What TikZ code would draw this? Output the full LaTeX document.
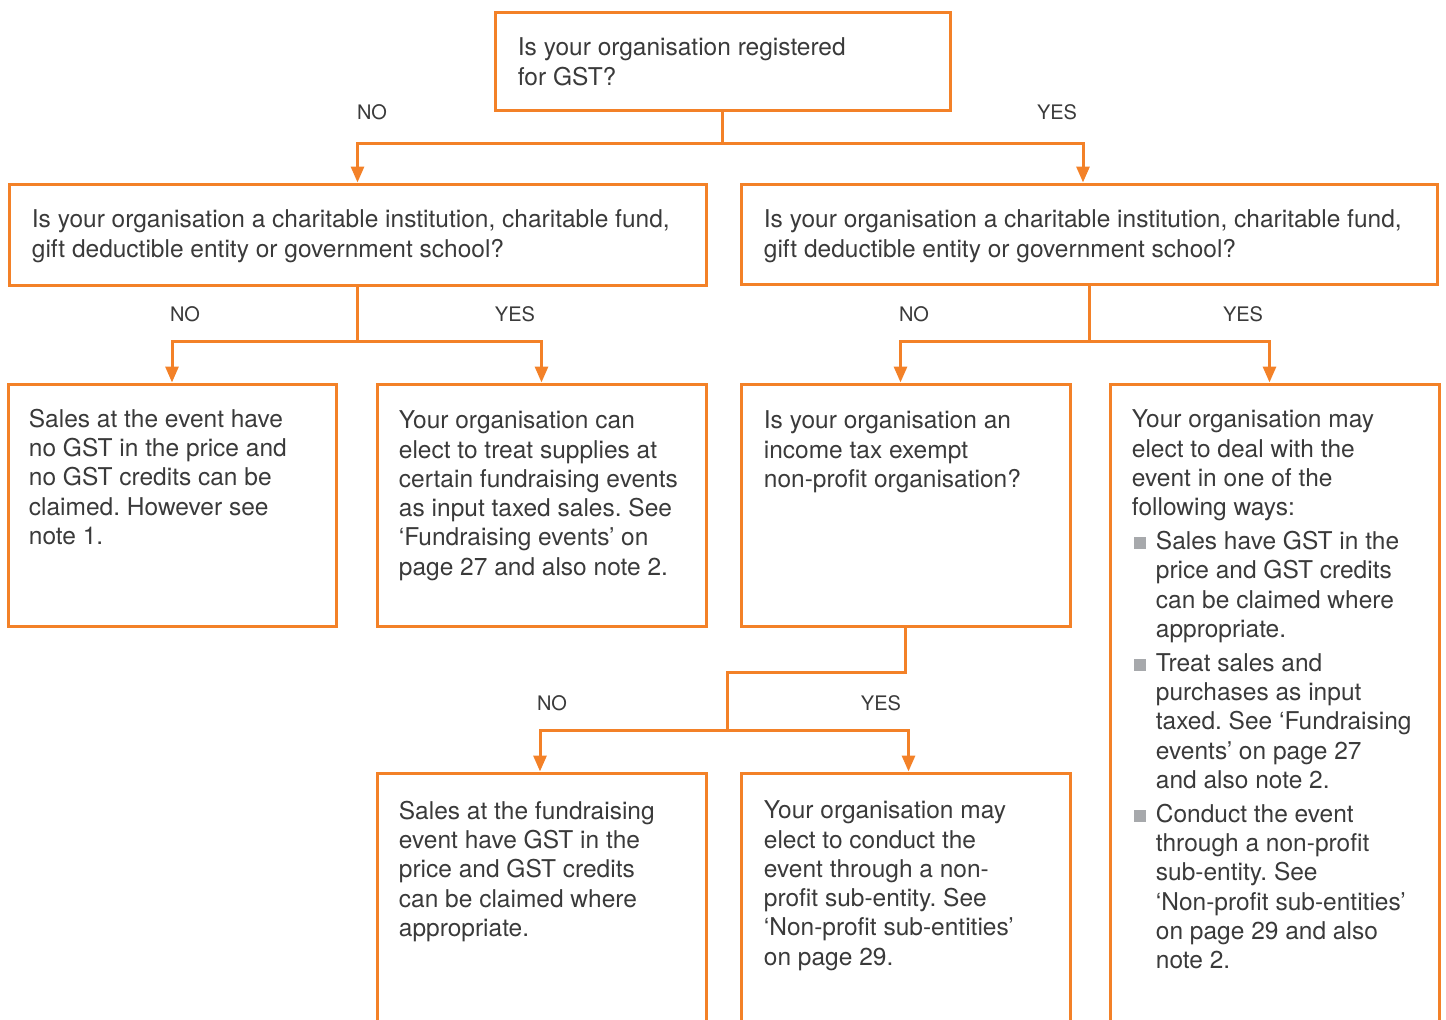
\documentclass[tikz,border=0pt]{standalone}
\usepackage{fontspec}
\setmainfont{TeX Gyre Heros}
\usetikzlibrary{arrows.meta}

\definecolor{gstorange}{RGB}{243,129,40}
\definecolor{gsttext}{RGB}{58,58,58}
\definecolor{bulletgray}{RGB}{167,169,172}

\newcommand\gstbullet{\makebox[12pt][l]{\hspace{1pt}\textcolor{bulletgray}{\rule{6pt}{6pt}}}}
\newcommand\gstindent{\hspace*{12pt}}

\begin{document}
\frenchspacing
\begin{tikzpicture}[x=0.5pt, y=-0.5pt,
    box/.style={draw=gstorange, line width=1.5pt, minimum width=164.5pt, minimum height=121pt, inner sep=0pt},
    txt/.style={anchor=north west, inner sep=0pt, align=left, text=gsttext, font=\fontsize{12.25}{14.65}\selectfont},
    answer/.style={text=gsttext, font=\fontsize{10}{12}\selectfont},
    link/.style={draw=gstorange, line width=1.5pt, -{Triangle[width=6.5pt,length=8pt]}},
    wire/.style={draw=gstorange, line width=1.5pt}]
  \useasboundingbox (0,0) rectangle (1446,1019);
  \clip (0,0) rectangle (1446,1019);

  \node[box, minimum width=227.5pt, minimum height=49pt] (registered) at (722.5,61) {};
  \node[box, minimum width=348.5pt, minimum height=50.5pt] (charityno) at (357.5,234.5) {};
  \node[box, minimum width=348pt, minimum height=50pt] (charityyes) at (1089,234) {};
  \node[box, minimum width=164pt] (nocredits) at (172,505) {};
  \node[box] (inputtaxed) at (541.5,505) {};
  \node[box] (exempt) at (905.5,505) {};
  \node[box, minimum height=338pt] (options) at (1274.5,722) {};
  \node[box, minimum height=143.5pt] (gstapplies) at (541.5,916.5) {};
  \node[box, minimum height=143.5pt] (subentity) at (905.5,916.5) {};

  \node[txt] (registeredtext) at ([shift={(24,27)}]registered.north west)
    {Is your organisation registered\\for GST?};
  \node[txt] (charitynotext) at ([shift={(24,27)}]charityno.north west)
    {Is your organisation a charitable institution, charitable fund,\\gift deductible entity or government school?};
  \node[txt] (charityyestext) at ([shift={(24,27)}]charityyes.north west)
    {Is your organisation a charitable institution, charitable fund,\\gift deductible entity or government school?};
  \node[txt] (nocreditstext) at ([shift={(22,26)}]nocredits.north west)
    {Sales at the event have\\no GST in the price and\\no GST credits can be\\claimed. However see\\note 1.};
  \node[txt] (inputtaxedtext) at ([shift={(23,28)}]inputtaxed.north west)
    {Your organisation can\\elect to treat supplies at\\certain fundraising events\\as input taxed sales. See\\‘Fundraising events’ on\\page 27 and also note 2.};
  \node[txt] (exempttext) at ([shift={(24,28)}]exempt.north west)
    {Is your organisation an\\income tax exempt\\non-profit organisation?};
  \node[txt] (optionstext) at ([shift={(23,27)}]options.north west)
    {Your organisation may\\elect to deal with the\\event in one of the\\following ways:\\[2.25pt]
     \gstbullet Sales have GST in the\\\gstindent price and GST credits\\\gstindent can be claimed where\\\gstindent appropriate.\\[2.25pt]
     \gstbullet Treat sales and\\\gstindent purchases as input\\\gstindent taxed. See ‘Fundraising\\\gstindent events’ on page 27\\\gstindent and also note 2.\\[2.25pt]
     \gstbullet Conduct the event\\\gstindent through a non-profit\\\gstindent sub-entity. See\\\gstindent ‘Non-profit sub-entities’\\\gstindent on page 29 and also\\\gstindent note 2.};
  \node[txt] (gstappliestext) at ([shift={(23,29)}]gstapplies.north west)
    {Sales at the fundraising\\event have GST in the\\price and GST credits\\can be claimed where\\appropriate.};
  \node[txt] (subentitytext) at ([shift={(24,29)}]subentity.north west)
    {Your organisation may\\elect to conduct the\\event through a non-\\profit sub-entity. See\\‘Non-profit sub-entities’\\on page 29.};

  \node[answer] (no1) at (372,112) {NO};
  \node[answer] (yes1) at (1057,112) {YES};
  \node[answer] (no2) at (185,314) {NO};
  \node[answer] (yes2) at (515,314) {YES};
  \node[answer] (no3) at (914,314) {NO};
  \node[answer] (yes3) at (1243,314) {YES};
  \node[answer] (no4) at (552,703) {NO};
  \node[answer] (yes4) at (881,703) {YES};

  \coordinate (fork1) at (722.5,143);
  \coordinate (fork2) at (357.5,341);
  \coordinate (fork3) at (1089,341);
  \coordinate (fork4) at (727,730);

  \draw[wire] (registered.south) -- (fork1);
  \draw[link] (fork1) -| (charityno.north);
  \draw[link] (fork1) -| ([xshift=-3pt]charityyes.north);

  \draw[wire] (charityno.south) -- (fork2);
  \draw[link] (fork2) -| (nocredits.north);
  \draw[link] (fork2) -| (inputtaxed.north);

  \draw[wire] (charityyes.south) -- (fork3);
  \draw[link] (fork3) -| ([xshift=-2.5pt]exempt.north);
  \draw[link] (fork3) -| ([xshift=-2.5pt]options.north);

  \draw[wire] (exempt.south) -- ++(0,45) -| (fork4);
  \draw[link] (fork4) -| ([xshift=-0.75pt]gstapplies.north);
  \draw[link] (fork4) -| ([xshift=1.5pt]subentity.north);
\end{tikzpicture}
\end{document}
